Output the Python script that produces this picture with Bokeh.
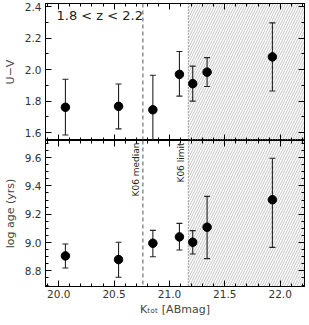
from bokeh.plotting import figure
from bokeh.models import (Range1d, LinearAxis, Span, BoxAnnotation, Label,
                          SingleIntervalTicker, PrintfTickFormatter, CustomJSTickFormatter)
from bokeh.layouts import column
from bokeh.embed import file_html
from bokeh.resources import INLINE

# ---- data ----
kmag = [20.06, 20.54, 20.85, 21.09, 21.21, 21.34, 21.93]
uv = [1.761, 1.767, 1.745, 1.970, 1.911, 1.984, 2.081]
uv_hi = [1.939, 1.909, 1.964, 2.115, 2.022, 2.076, 2.297]
uv_lo = [1.585, 1.624, 1.500, 1.832, 1.800, 1.893, 1.864]
logage = [8.906, 8.880, 8.995, 9.040, 9.002, 9.108, 9.302]
age_hi = [8.990, 9.002, 9.086, 9.135, 9.084, 9.326, 9.595]
age_lo = [8.820, 8.755, 8.900, 8.947, 8.919, 8.887, 8.966]
k06_median = 20.76
k06_limit = 21.17
x_range = (19.88, 22.22)
uv_range = (1.55, 2.42)
age_range = (8.69, 9.72)
z_label = "1.8 < z < 2.2"
x_title = "K\u209c\u2092\u209c [ABmag]"

FONT = "DejaVu Sans"
TICKFS = "10.5px"


def style_axis(ax, labels=True, interval=0.5, minor=5):
    ax.ticker = SingleIntervalTicker(interval=interval, num_minor_ticks=minor)
    ax.major_tick_in = 6
    ax.major_tick_out = 0
    ax.minor_tick_in = 3
    ax.minor_tick_out = 0
    ax.axis_line_color = "black"
    ax.major_tick_line_color = "black"
    ax.minor_tick_line_color = "black"
    ax.major_label_text_font = FONT
    ax.major_label_text_color = "#333333"
    ax.axis_label_text_font = FONT
    ax.axis_label_text_font_style = "normal"
    ax.axis_label_text_color = "#444444"
    ax.axis_label_text_font_size = "11px"
    if labels:
        ax.formatter = PrintfTickFormatter(format="%.1f")
        ax.major_label_text_font_size = TICKFS
        ax.major_label_standoff = 4
    else:
        ax.formatter = CustomJSTickFormatter(code="return ''")
        ax.major_label_text_font_size = "0px"
        ax.major_label_standoff = 0
        ax.axis_label = None


def make_fig(yr, frame_h, ylabel, yint, yminor, top_border, bottom_border, xlabels):
    p = figure(frame_width=259, frame_height=frame_h,
               x_range=Range1d(*x_range), y_range=Range1d(*yr),
               output_backend="svg", toolbar_location=None,
               min_border_left=36, min_border_right=4,
               min_border_top=top_border, min_border_bottom=bottom_border)
    p.grid.visible = False
    p.outline_line_color = "black"
    p.background_fill_color = "white"
    p.border_fill_color = "white"
    style_axis(p.below[0], labels=xlabels, interval=0.5, minor=5)
    style_axis(p.left[0], labels=True, interval=yint, minor=yminor)
    p.left[0].axis_label = ylabel
    p.left[0].axis_label_standoff = 5
    top = LinearAxis()
    style_axis(top, labels=False, interval=0.5, minor=5)
    p.add_layout(top, "above")
    right = LinearAxis()
    style_axis(right, labels=False, interval=yint, minor=yminor)
    p.add_layout(right, "right")
    # shaded region beyond K06 limit
    p.add_layout(BoxAnnotation(left=k06_limit, fill_alpha=0, line_alpha=0,
                               hatch_pattern="/", hatch_color="#9a9a9a",
                               hatch_scale=5, hatch_weight=0.6, level="underlay"))
    p.add_layout(Span(location=k06_median, dimension="height", line_color="#555555",
                      line_dash="4 3", line_width=1))
    p.add_layout(Span(location=k06_limit, dimension="height", line_color="#555555",
                      line_dash="1 2", line_width=1))
    return p


p1 = make_fig(uv_range, 137, "U\u2212V", 0.2, 2, 3, 0, False)
p2 = make_fig(age_range, 146, "log age (yrs)", 0.2, 4, 0, 0, True)
xax = p2.below[0]
xax.axis_label = x_title
xax.axis_label_standoff = 2
xax.major_label_standoff = 3

for p, y, hi, lo in ((p1, uv, uv_hi, uv_lo), (p2, logage, age_hi, age_lo)):
    p.segment(x0=kmag, y0=lo, x1=kmag, y1=hi, line_color="#222222", line_width=1.1)
    p.scatter(x=kmag, y=hi, marker="dash", size=6, line_color="#222222", line_width=1.1)
    p.scatter(x=kmag, y=lo, marker="dash", size=6, line_color="#222222", line_width=1.1)
    p.scatter(x=kmag, y=y, marker="circle", size=8.5, fill_color="black", line_color="black")

p1.add_layout(Label(x=x_range[0], y=uv_range[1], x_offset=11, y_offset=-12,
                    text=z_label, text_font=FONT, text_font_size="13px",
                    text_color="#222222", text_baseline="middle", text_align="left"))

p2.add_layout(Label(x=k06_median, y=age_range[1], x_offset=-2, y_offset=-2,
                    text="K06 median", angle=90, angle_units="deg",
                    text_font=FONT, text_font_size="9px", text_color="#222222",
                    text_align="right", text_baseline="bottom"))
p2.add_layout(Label(x=k06_limit, y=age_range[1], x_offset=-2, y_offset=-2,
                    text="K06 limit", angle=90, angle_units="deg",
                    text_font=FONT, text_font_size="9px", text_color="#222222",
                    text_align="right", text_baseline="bottom"))

layout = column(p1, p2, spacing=0)
open("out.html", "w").write(file_html(layout, INLINE))
